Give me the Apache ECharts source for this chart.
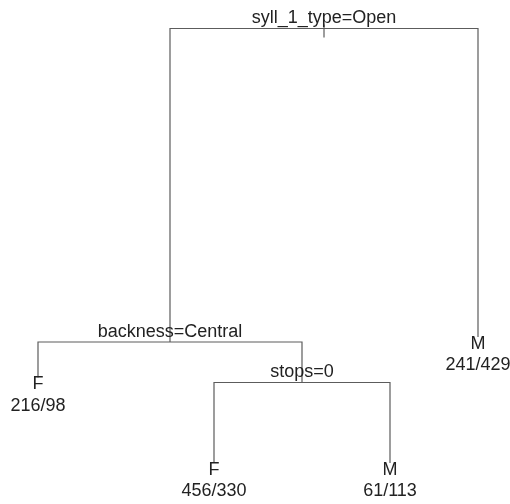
<!DOCTYPE html>
<html>
<head>
<meta charset="utf-8">
<script src="https://cdn.jsdelivr.net/npm/echarts@6/dist/echarts.min.js"></script>
<style>html,body{margin:0;padding:0;background:#fff;}#c{width:510px;height:504px;}</style>
</head>
<body>
<div id="c"></div>
<script>
// rpart-style tree: node order = root, splits, leaves
const nodeLabels = ['syll_1_type=Open', 'backness=Central', 'stops=0', 'F', 'F', 'M', 'M'];
const nodeCounts = ['', '', '', '216/98', '456/330', '61/113', '241/429'];
const nodeParent = [-1, 0, 1, 1, 2, 2, 0];
const nodeIsLeaf = [false, false, false, true, true, true, true];
// horizontal position (leaf order units) and vertical height (deviance scale)
const nodeX = [2.625, 1.75, 2.5, 1, 2, 3, 3.5];
const nodeHeight = [1, 0.2867, 0.1945, 0.1945, 0, 0, 0.2867];

const FONT = '18px "Liberation Sans", Arial, sans-serif';
const LINE = '#5c5c5c';
const TEXT = '#222222';

const data = nodeX.map((x, i) => {
  const p = nodeParent[i];
  return [x, nodeHeight[i], p < 0 ? x : nodeX[p], p < 0 ? nodeHeight[i] : nodeHeight[p], i];
});

function renderItem(params, api) {
  const i = api.value(4);
  const c = api.coord([api.value(0), api.value(1)]);
  const pc = api.coord([api.value(2), api.value(3)]);
  const children = [];
  const leaf = nodeIsLeaf[i];
  if (nodeParent[i] >= 0) {
    children.push({
      type: 'polyline',
      shape: { points: [[pc[0], pc[1]], [c[0], pc[1]], [c[0], c[1] - (leaf ? 5 : 0)]] },
      style: { stroke: LINE, lineWidth: 1.2, fill: null }
    });
  } else {
    children.push({
      type: 'line',
      shape: { x1: c[0], y1: c[1] - 4, x2: c[0], y2: c[1] + 9 },
      style: { stroke: LINE, lineWidth: 1.2 }
    });
  }
  if (!leaf) {
    children.push({
      type: 'text',
      style: { text: nodeLabels[i], x: c[0], y: c[1] - 10, align: 'center', verticalAlign: 'middle',
               textAlign: 'center', textVerticalAlign: 'middle', font: FONT, fill: TEXT }
    });
  } else {
    children.push({
      type: 'text',
      style: { text: nodeLabels[i], x: c[0], y: c[1] + 2, align: 'center', verticalAlign: 'middle',
               textAlign: 'center', textVerticalAlign: 'middle', font: FONT, fill: TEXT }
    });
    children.push({
      type: 'text',
      style: { text: nodeCounts[i], x: c[0], y: c[1] + 23.5, align: 'center', verticalAlign: 'middle',
               textAlign: 'center', textVerticalAlign: 'middle', font: FONT, fill: TEXT }
    });
  }
  return { type: 'group', children: children };
}

const chart = echarts.init(document.getElementById('c'), null, { renderer: 'canvas' });
chart.setOption({
  animation: false,
  backgroundColor: '#ffffff',
  grid: { left: 38, right: 32, top: 28.5, bottom: 36 },
  xAxis: { type: 'value', min: 1, max: 3.5, show: false },
  yAxis: { type: 'value', min: 0, max: 1, show: false },
  series: [{
    type: 'custom',
    renderItem: renderItem,
    data: data,
    clip: false,
    encode: { x: 0, y: 1 }
  }]
});
</script>
</body>
</html>
